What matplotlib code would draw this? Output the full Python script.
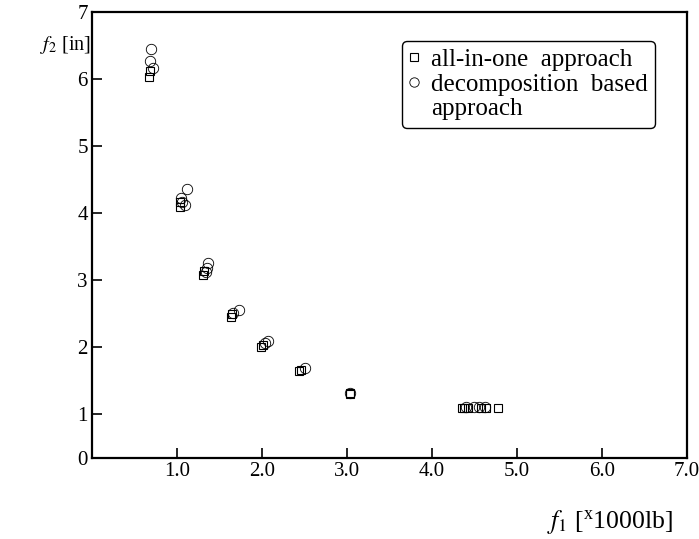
import matplotlib
matplotlib.use('Agg')
import matplotlib.pyplot as plt
from matplotlib.lines import Line2D

plt.rcParams['font.family'] = ['Liberation Serif', 'DejaVu Serif']
plt.rcParams['mathtext.fontset'] = 'stix'

# all-in-one approach (squares)
aio_f1 = [0.67, 0.68, 1.03, 1.04, 1.31, 1.32, 1.64, 1.65, 1.99, 2.01,
          2.44, 2.46, 3.03, 3.03, 4.35, 4.38, 4.42, 4.57, 4.64, 4.78]
aio_f2 = [6.03, 6.12, 4.09, 4.17, 3.07, 3.13, 2.45, 2.49, 2.00, 2.03,
          1.64, 1.66, 1.30, 1.31, 1.09, 1.09, 1.09, 1.09, 1.09, 1.08]

# decomposition based approach (circles)
dec_f1 = [0.69, 0.68, 0.72, 1.12, 1.05, 1.06, 1.09, 1.36, 1.35, 1.34,
          1.66, 1.73, 2.03, 2.07, 2.51, 3.03, 4.40, 4.49, 4.55, 4.62]
dec_f2 = [6.45, 6.27, 6.16, 4.36, 4.22, 4.17, 4.12, 3.25, 3.18, 3.12,
          2.50, 2.55, 2.05, 2.09, 1.68, 1.31, 1.10, 1.10, 1.10, 1.10]

xticks = [1.0, 2.0, 3.0, 4.0, 5.0, 6.0, 7.0]
ybottom = 0.34
yticks = [ybottom, 1, 2, 3, 4, 5, 6, 7]
ylabels = ['0', '1', '2', '3', '4', '5', '6', '7']

fig = plt.figure(figsize=(6.99, 5.39), dpi=100)
ax = fig.add_axes([0.1316, 0.1503, 0.8514, 0.8274])

sq, = ax.plot(aio_f1, aio_f2, linestyle='none', marker='s', markersize=6,
              markerfacecolor='none', markeredgecolor='black', markeredgewidth=0.8)
ci, = ax.plot(dec_f1, dec_f2, linestyle='none', marker='o', markersize=7.5,
              markerfacecolor='none', markeredgecolor='black', markeredgewidth=0.6)

ax.set_xlim(0, 7.0)
ax.set_ylim(ybottom, 7)
ax.set_xticks(xticks)
ax.set_xticklabels(['%.1f' % t for t in xticks])
ax.set_yticks(yticks)
ax.set_yticklabels(ylabels)
ax.tick_params(direction='in', length=7, width=1.2, labelsize=15, pad=3,
               top=False, right=False)
for s in ax.spines.values():
    s.set_linewidth(1.6)

fig.text(0.057, 0.908, r'$f_2$ [in]', fontsize=14.5)
fig.text(0.782, 0.02, r'$f_1$ [$\mathregular{^{x}}$1000lb]', fontsize=18.5)

blank = Line2D([], [], linestyle='none', marker='none')
leg = ax.legend([sq, ci, blank],
                ['all-in-one  approach', 'decomposition  based', 'approach'],
                loc='upper right', bbox_to_anchor=(0.946, 0.935), fontsize=18,
                frameon=True, fancybox=True, edgecolor='black', framealpha=1,
                handlelength=0.4, handletextpad=0.45, borderpad=0.3,
                labelspacing=0.08, borderaxespad=0, markerscale=0.9)
leg.get_frame().set_linewidth(1.0)

fig.savefig('out.png', dpi=100, facecolor='white')
